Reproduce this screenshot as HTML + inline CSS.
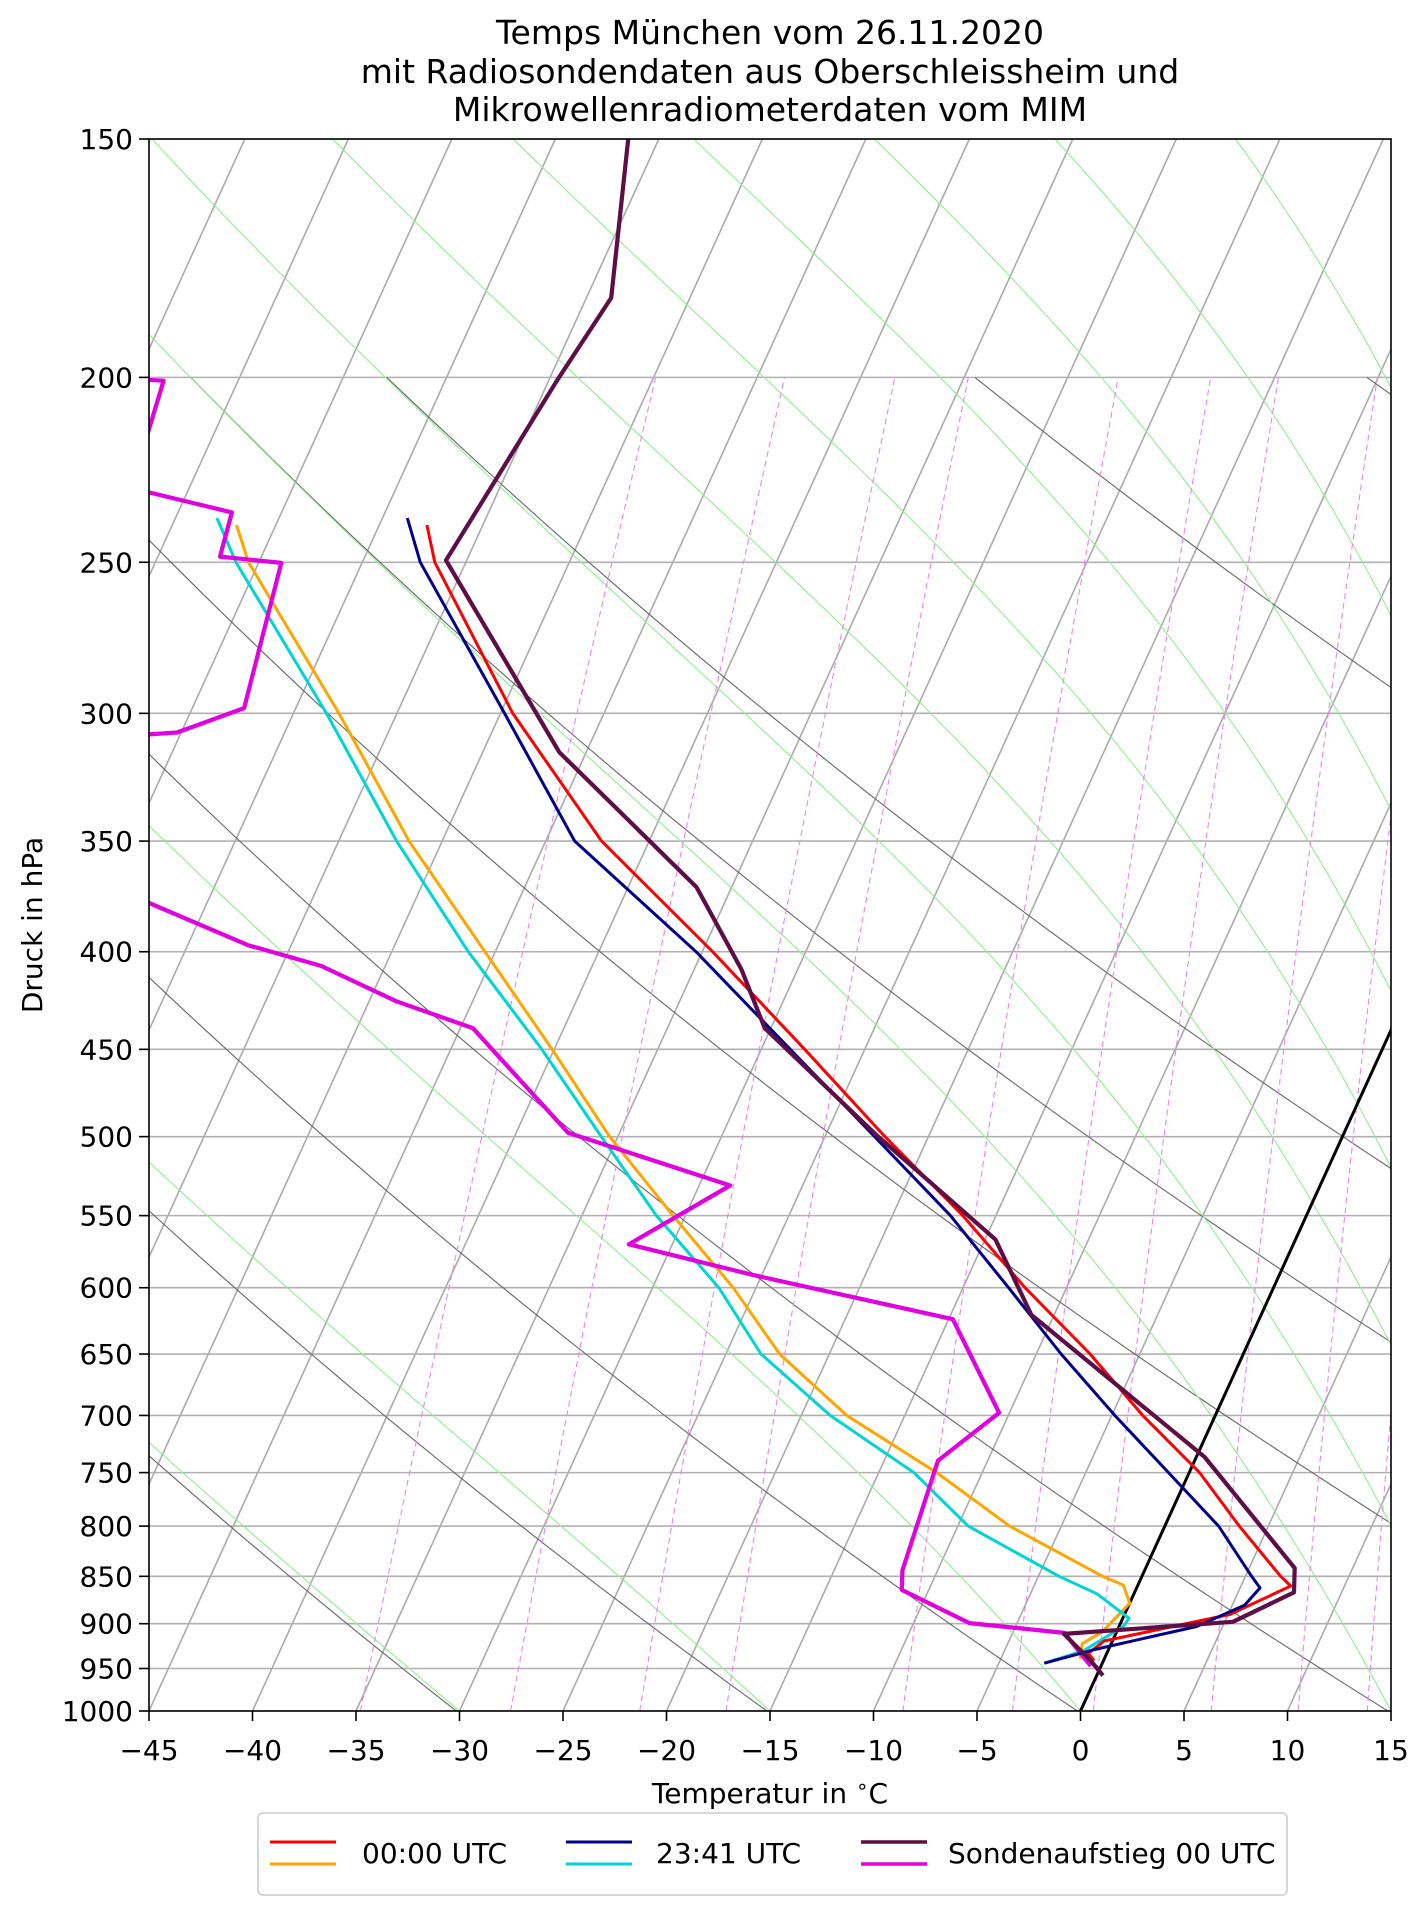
<!DOCTYPE html>
<html><head><meta charset="utf-8"><style>
body{margin:0;background:#fff}
svg{display:block;font-family:"DejaVu Sans","Liberation Sans",sans-serif}
</style></head><body>
<svg id="chart" width="1427" height="1907" viewBox="0 0 1427 1907" xmlns="http://www.w3.org/2000/svg">
<defs><clipPath id="plotclip"><rect x="149" y="139" width="1242" height="1572"/></clipPath></defs>
<g font-size="33" text-anchor="middle">
<text x="770" y="44">Temps München vom 26.11.2020</text>
<text x="770" y="83">mit Radiosondendaten aus Oberschleissheim und</text>
<text x="770" y="121">Mikrowellenradiometerdaten vom MIM</text>
</g>
<g id="bg" clip-path="url(#plotclip)"></g>
<g id="series" clip-path="url(#plotclip)"></g>
<rect x="149" y="139" width="1242" height="1572" fill="none" stroke="#000" stroke-width="1.6"/>
<g id="axes" font-size="28"></g>
<text x="770" y="1803" font-size="28" text-anchor="middle">Temperatur in <tspan font-size="20" dy="-10">∘</tspan><tspan dy="10">C</tspan></text>
<text transform="translate(42,925) rotate(-90)" font-size="28" text-anchor="middle">Druck in hPa</text>
<g>
<rect x="258" y="1813" width="1029" height="82" rx="5" fill="#fff" stroke="#cccccc" stroke-width="1.6"/>
<g>
<line x1="270" y1="1842" x2="336" y2="1842" stroke="#ff0000" stroke-width="3"/>
<line x1="270" y1="1864" x2="336" y2="1864" stroke="#ffa500" stroke-width="3"/>
<text x="362" y="1863" font-size="28">00:00 UTC</text></g>
<g>
<line x1="566" y1="1842" x2="632" y2="1842" stroke="#00008b" stroke-width="3"/>
<line x1="566" y1="1864" x2="632" y2="1864" stroke="#00d5d5" stroke-width="3"/>
<text x="656" y="1863" font-size="28">23:41 UTC</text></g>
<g>
<line x1="861" y1="1842" x2="927" y2="1842" stroke="#5e0d47" stroke-width="3.5"/>
<line x1="861" y1="1864" x2="927" y2="1864" stroke="#e000e0" stroke-width="3.5"/>
<text x="948" y="1863" font-size="28">Sondenaufstieg 00 UTC</text></g>
</g>
</svg>
<script>
// ---- data ----
const pressureTicks=[150,200,250,300,350,400,450,500,550,600,650,700,750,800,850,900,950,1000];
const tempTicks=[-45,-40,-35,-30,-25,-20,-15,-10,-5,0,5,10,15];
const mixingRatios=[0.0002,0.0004,0.0007,0.001,0.002,0.003,0.004,0.006,0.008,0.010];
const dryThetas=[243,258,273,288,303,318,333,378,408];
const redP=[239,250,300,350,400,450,500,550,600,650,700,750,800,850,860,890,919,933,941];
const redT=[-57.7,-56.5,-49.4,-42.3,-34.5,-27.9,-22.1,-16.6,-12.0,-7.4,-3.5,0.5,3.6,6.7,7.4,5.1,-0.4,-0.9,-0.45];
const orangeP=[239,250,300,350,400,450,500,550,600,650,700,750,800,850,859,878,909,922,939];
const orangeT=[-66.9,-65.5,-57.8,-51.6,-45.5,-40.1,-35.4,-30.6,-26.1,-22.4,-17.8,-12.2,-7.5,-1.9,-0.7,0,-0.7,-1.4,-1.16];
const blueP=[237,250,300,350,400,450,500,550,600,650,700,750,800,850,862,880,903,928,944];
const blueT=[-58.8,-57.2,-49.8,-43.6,-35.3,-28.6,-22.6,-17.2,-12.8,-8.8,-4.85,-1.0,2.6,5.3,5.96,5.6,3.75,-0.6,-2.8];
const cyanP=[237,250,300,350,400,450,500,550,600,650,700,750,800,850,868,894,903,930,944];
const cyanT=[-68.0,-66.1,-58.4,-52.2,-46.3,-40.6,-35.8,-31.4,-26.8,-23.3,-18.6,-13.3,-9.5,-4.0,-1.8,0.3,0.2,-1.2,-2.8];
const sondeP=[148.7,181.7,200.8,249.4,314.4,370,408.8,438.6,498.6,566,620,736,841.6,866.6,897.9,911.2,941.3,958.1];
const sondeT=[-56.6,-53.8,-54.6,-56.0,-46.3,-36.7,-32.7,-30.3,-22.6,-14.5,-11.1,0.4,7.2,7.7,5.4,-2.5,-0.6,0.3];
const sondeDP=[199.3,200.8,228.6,235.4,248.3,250.2,298.1,307.0,309.7,353,396.8,406.9,424.6,438.6,497.6,530.4,569.4,590.9,623.2,697.8,739.2,844,864,899.4,910,947];
const sondeTd=[-79.5,-73.6,-72.8,-67.4,-67.0,-63.9,-62.5,-65.2,-70.2,-70.2,-57.1,-53.1,-48.7,-44.4,-37.5,-28.5,-32.1,-25.4,-14.8,-10.5,-12.4,-11.7,-11.3,-7.3,-2.5,-0.5];

// ---- axes ----
const X0=149,YB=1711,H=1572,PXC=20.7,SK=0.456,LN=Math.log(1000/150);
function yOf(p){return YB-H*Math.log(1000/p)/LN;}
function xOf(t,p){return X0+(t+45)*PXC+SK*(YB-yOf(p));}
const NS='http://www.w3.org/2000/svg';
function mk(tag,attrs,parent){const e=document.createElementNS(NS,tag);for(const k in attrs)e.setAttribute(k,attrs[k]);parent.appendChild(e);return e;}
function pathD(ps,ts){return ps.map((p,i)=>(i?'L':'M')+xOf(ts[i],p).toFixed(1)+','+yOf(p).toFixed(1)).join('');}
const bg=document.getElementById('bg'),ser=document.getElementById('series'),ax=document.getElementById('axes');

for(let t=-150;t<=15;t+=5){
  const l=mk('line',{x1:xOf(t,1000),y1:yOf(1000),x2:xOf(t,150),y2:yOf(150),stroke:'#aaaaaa','stroke-width':1.6},bg);
  
  
}
pressureTicks.forEach(p=>{
  const l=mk('line',{x1:149,x2:1391,y1:yOf(p),y2:yOf(p),stroke:'#b0b0b0','stroke-width':1.6},bg);
  
  
});
const plev=[];for(let p=1000;p>=200;p-=10)plev.push(p);
dryThetas.forEach(th=>{
  const ts=plev.map(p=>th*Math.pow(p/1000,0.2857)-273.15);
  const e=mk('path',{d:pathD(plev,ts),fill:'none',stroke:'#666','stroke-width':1.1},bg);
  
  
});
function es(t){return 6.112*Math.exp(17.67*t/(t+243.5));}
function dTdp(t,p){const T=t+273.15,rs=0.622*es(t)/(p-es(t)),Lv=2.5e6,Rd=287,Cp=1004;
  return (Rd*T+Lv*rs)/(p*(Cp+Lv*Lv*rs*0.622/(Rd*T*T)));}
function moist(t0){const ps=[],ts=[];let t=t0;for(let p=1000;p>=150;p-=5){ps.push(p);ts.push(t);
  const h=-5,k1=dTdp(t,p),k2=dTdp(t+h*k1,p+h);t+=h*(k1+k2)/2;}return [ps,ts];}
const moistT0=[-30,-15,0];
for(let th=318;th<=560;th+=15){const target=th*Math.pow(0.15,0.2857)-273.15;let lo=-40,hi=60;
  for(let i=0;i<40;i++){const m=(lo+hi)/2;const r=moist(m);if(r[1][r[1].length-1]<target)lo=m;else hi=m;}
  moistT0.push((lo+hi)/2);}
moistT0.forEach(t0=>{const r=moist(t0);
  const e=mk('path',{d:pathD(r[0],r[1]),fill:'none',stroke:'#90ee90','stroke-width':1.1},bg);
  
  });
mixingRatios.forEach(w=>{const ps=[],ts=[];for(let p=1000;p>=200;p-=20){const e=w*p/(0.622+w),L=Math.log(e/6.112);ps.push(p);ts.push(243.5*L/(17.67-L));}
  const e=mk('path',{d:pathD(ps,ts),fill:'none',stroke:'#f080f0','stroke-width':1.1,'stroke-dasharray':'6,4'},bg);
  
  });
const z=mk('line',{x1:xOf(0,1000),y1:yOf(1000),x2:xOf(0,150),y2:yOf(150),stroke:'#000','stroke-width':3},ser);


[[orangeP,orangeT,'#ffa500',3,'mwr-0000-dewpoint'],[cyanP,cyanT,'#00d5d5',3,'mwr-2341-dewpoint'],
 [sondeDP,sondeTd,'#e000e0',4.2,'sonde-dewpoint'],[redP,redT,'#ff0000',3,'mwr-0000-temperature'],
 [blueP,blueT,'#00008b',3,'mwr-2341-temperature'],[sondeP,sondeT,'#5e0d47',4.2,'sonde-temperature']].forEach(s=>{
  const e=mk('path',{d:pathD(s[0],s[1]),fill:'none',stroke:s[2],'stroke-width':s[3],'stroke-linejoin':'round'},ser);
  
  });
pressureTicks.forEach(p=>{const y=yOf(p);
  const l=mk('line',{x1:139,x2:149,y1:y,y2:y,stroke:'#000','stroke-width':1.6},ax);
  
  
  const t=mk('text',{x:133,y:y+10,'text-anchor':'end'},ax);t.textContent=p;
  
  });
tempTicks.forEach(v=>{const x=X0+(v+45)*PXC;
  const l=mk('line',{x1:x,x2:x,y1:1711,y2:1721,stroke:'#000','stroke-width':1.6},ax);
  
  
  const t=mk('text',{x:x,y:1760,'text-anchor':'middle'},ax);t.textContent=(v<0?'\u2212'+(-v):v);
  
  });
</script>
</body></html>
